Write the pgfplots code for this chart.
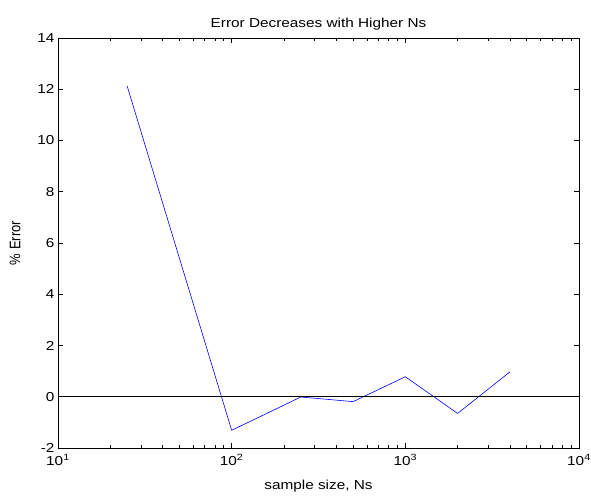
\documentclass[border=0pt]{standalone}
\usepackage{fontspec}
\setmainfont{Liberation Sans}
\usepackage{graphicx}
\usepackage{pgfplots}
\pgfplotsset{compat=1.18}
\usetikzlibrary{calc}

% reference text is stretched horizontally
\newcommand{\sx}[1]{\scalebox{1.18}[1]{#1}}

\begin{document}
\begin{tikzpicture}
\begin{axis}[
  name=ax,
  scale only axis,
  width=521pt,
  height=410pt,
  xmode=log,
  xmin=10, xmax=10000,
  ymin=-2, ymax=14,
  xtick={10,100,1000,10000},
  xticklabels={\sx{10\textsuperscript{1}},\sx{10\textsuperscript{2}},\sx{10\textsuperscript{3}},\sx{10\textsuperscript{4}}},
  ytick={-2,0,2,4,6,8,10,12,14},
  yticklabels={\sx{-2},\sx{0},\sx{2},\sx{4},\sx{6},\sx{8},\sx{10},\sx{12},\sx{14}},
  tick align=inside,
  major tick length=5pt,
  minor tick length=3pt,
  axis line style={black, line width=0.8pt},
  every tick/.style={black, line width=0.6pt},
  tick label style={font=\fontsize{13}{15}\selectfont},
  xticklabel style={yshift=-3pt},
  title={\sx{Error Decreases with Higher Ns}},
  title style={font=\fontsize{13}{15}\selectfont, yshift=-2pt},
  xlabel={\sx{sample size, Ns}},
  ylabel={\scalebox{1}[1.18]{\% Error}},
  label style={font=\fontsize{13}{15}\selectfont},
  xlabel style={yshift=-8pt},
  ylabel style={yshift=10pt},
]
\addplot[blue, line width=0.6pt] coordinates {
  (25,12.13) (100,-1.31) (250,-0.01) (500,-0.19) (1000,0.78) (2000,-0.65) (4000,0.97)
};
\addplot[black, line width=0.6pt] coordinates {(10,0) (10000,0)};
\end{axis}
\pgfresetboundingbox
\path ($(ax.south west)+(-58pt,-47pt)$) rectangle ($(ax.north east)+(12pt,38pt)$);
\end{tikzpicture}
\end{document}
